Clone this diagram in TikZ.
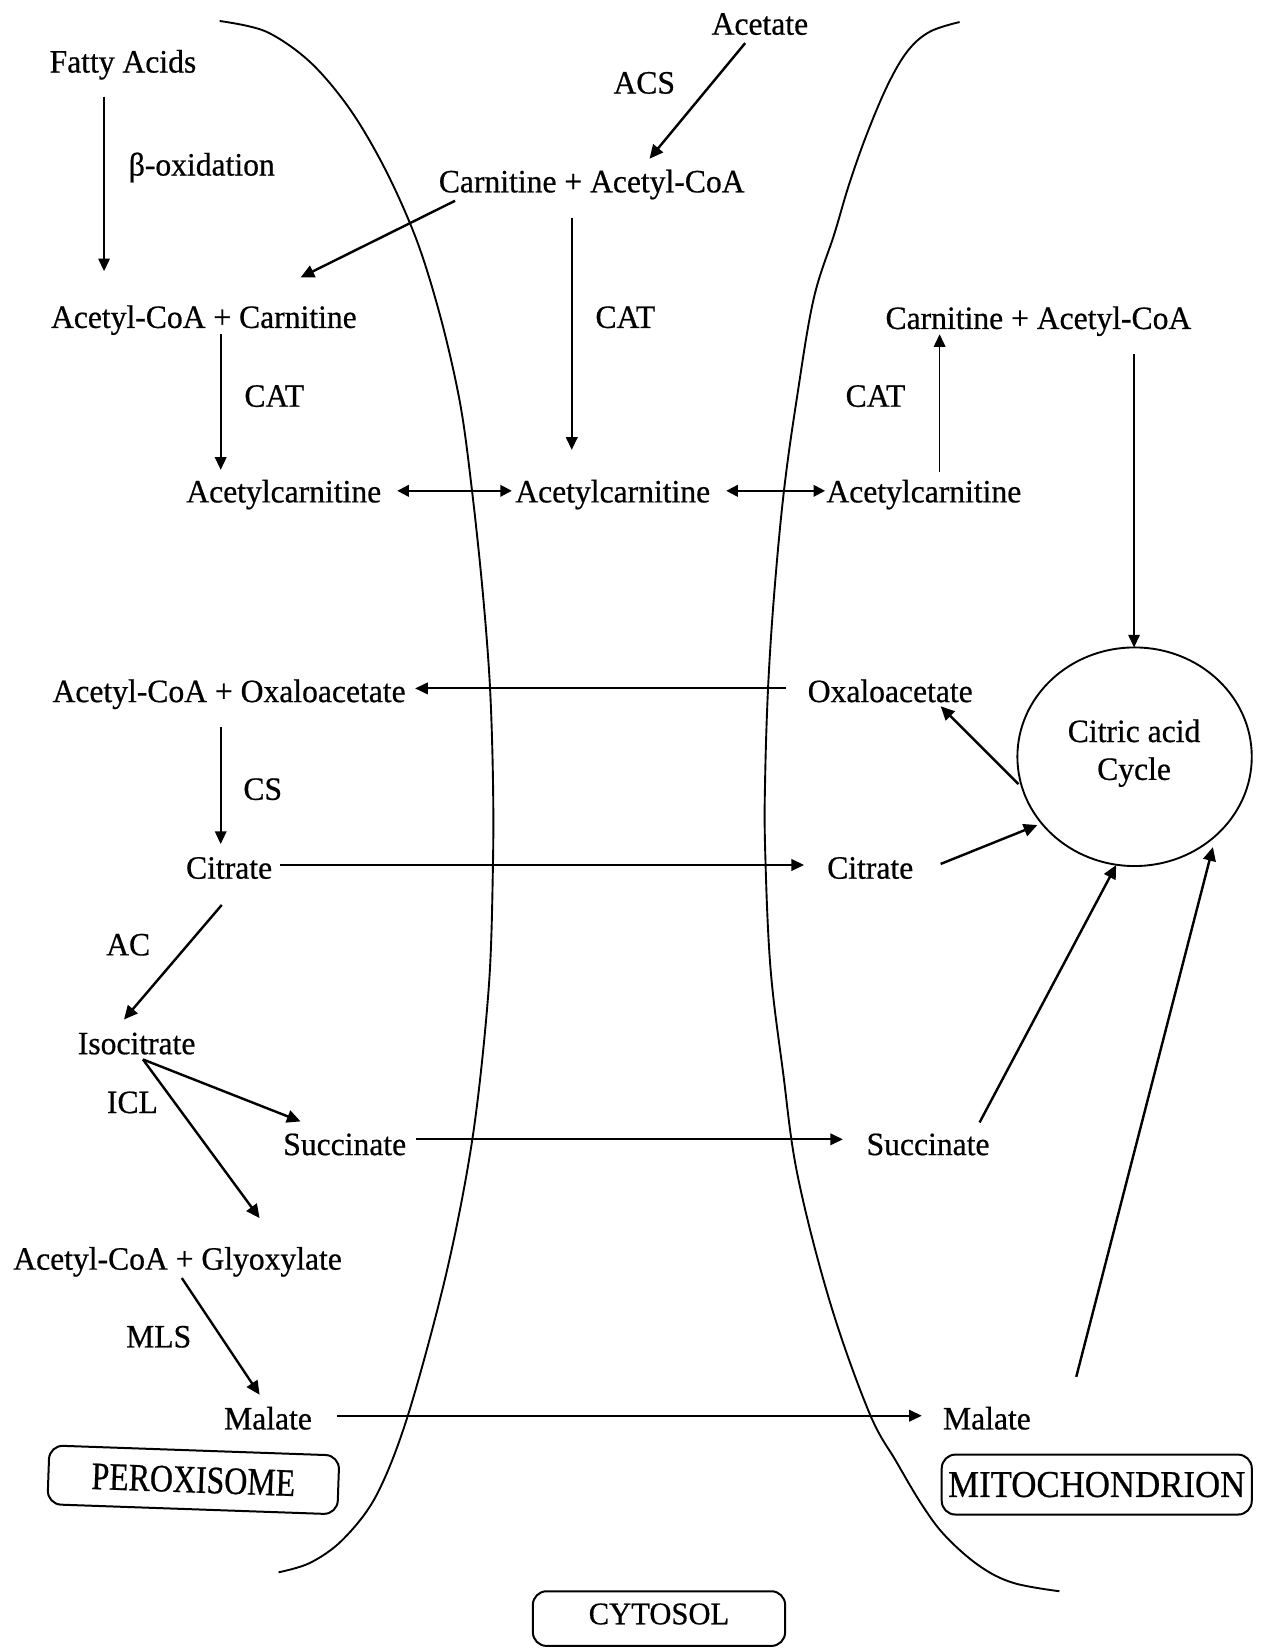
\documentclass[tikz,border=0pt]{standalone}
\usepackage{fontspec}
\setmainfont{Liberation Serif}[FakeStretch=0.97,FakeBold=0.6]
\newfontfamily\peroxfont{Liberation Serif}[FakeStretch=0.82,FakeBold=0.6]
\newfontfamily\mitofont{Liberation Serif}[FakeStretch=0.92,FakeBold=0.6]
\usetikzlibrary{arrows.meta,shapes.geometric}

\tikzset{
  lbl/.style={anchor=base, inner sep=0pt, font=\fontsize{31}{36}\selectfont},
  thinarr/.style={line width=1.5pt, -{Triangle[length=12pt,width=11pt]}},
  longarr/.style={line width=1.8pt, -{Triangle[length=12pt,width=11pt]}},
  twoway/.style={line width=2pt, {Triangle[length=11pt,width=11pt]}-{Triangle[length=11pt,width=11pt]}},
  diagarr/.style={line width=2.3pt, -{Triangle[length=13pt,width=12pt]}},
  membrane/.style={line width=1.8pt},
  compartment/.style={draw, line width=1.9pt, rounded corners=13pt, inner sep=0pt}
}

\begin{document}
\begin{tikzpicture}[x=1pt,y=-1pt]
\useasboundingbox (0,0) rectangle (1205,1568);

% membranes
\draw[membrane] plot[smooth, tension=0.55] coordinates {
  (209,20) (253,30) (295,59) (333,104) (367,162) (397,230) (420,305)
  (438,385) (449,466) (459,560) (466,650) (469,740) (469,824) (465,940)
  (450,1080) (425,1210) (388,1347) (358,1423) (326,1465) (295,1487) (265,1496)};
\draw[membrane] plot[smooth, tension=0.6] coordinates {
  (913,21) (885,30) (864,48) (845,80) (825,127) (808,175) (794,222)
  (774,285) (758,380) (746,466) (737,560) (731,650) (728,740) (728,808)
  (733,920) (745,1020) (759,1119) (790,1240) (827,1344) (853,1391)
  (878,1433) (900,1462) (932,1490) (964,1506) (1008,1514)};

% metabolites and enzymes
\node[lbl] (fa)   at (117,69)   {Fatty Acids};
\node[lbl] (boxid) at (192,167) {β-oxidation};
\node[lbl] (acc)  at (194,312)  {Acetyl-CoA + Carnitine};
\node[lbl] (cat1) at (261,387)  {CAT};
\node[lbl] (acl)  at (270,478)  {Acetylcarnitine};
\node[lbl] (acm)  at (583,478)  {Acetylcarnitine};
\node[lbl] (acr)  at (879,478)  {Acetylcarnitine};
\node[lbl] (acet) at (723,33)   {Acetate};
\node[lbl] (acs)  at (613,89)   {ACS};
\node[lbl] (cam)  at (563,183)  {Carnitine + Acetyl-CoA};
\node[lbl] (catm) at (595,312)  {CAT};
\node[lbl] (car)  at (988,313)  {Carnitine + Acetyl-CoA};
\node[lbl] (catr) at (833,387)  {CAT};
\node[lbl] (aco)  at (218,668)  {Acetyl-CoA + Oxaloacetate};
\node[lbl] (oxr)  at (847,668)  {Oxaloacetate};
\node[lbl] (cs)   at (250,761)  {CS};
\node[lbl] (citl) at (218,836)  {Citrate};
\node[lbl] (citr) at (828,836)  {Citrate};
\node[lbl] (ac)   at (122,909)  {AC};
\node[lbl] (iso)  at (130,1003) {Isocitrate};
\node[lbl] (icl)  at (126,1059) {ICL};
\node[lbl] (sucl) at (328,1099) {Succinate};
\node[lbl] (sucr) at (883,1099) {Succinate};
\node[lbl] (acg)  at (169,1208) {Acetyl-CoA + Glyoxylate};
\node[lbl] (mls)  at (151,1282) {MLS};
\node[lbl] (mall) at (255,1360) {Malate};
\node[lbl] (malr) at (939,1360) {Malate};

% citric acid cycle
\node[draw, ellipse, line width=1.8pt, minimum width=223pt, minimum height=208pt, inner sep=0pt] (tca) at (1079.5,720) {};
\node[lbl] (tcaa) at (1079,706) {Citric acid};
\node[lbl] (tcab) at (1079,742) {Cycle};

% compartment labels
\node[compartment, minimum width=276pt, minimum height=56pt, rotate=-2,
      font=\peroxfont\fontsize{37}{40}\selectfont] (perox) at (184,1408) {PEROXISOME};
\node[compartment, minimum width=295pt, minimum height=57pt,
      font=\mitofont\fontsize{36}{40}\selectfont] (mito) at (1043.5,1412.5) {MITOCHONDRION};
\node[compartment, minimum width=240pt, minimum height=52pt, text depth=9pt,
      font=\fontsize{30}{34}\selectfont] (cyto) at (627,1540) {CYTOSOL};

% connector end points
\coordinate (faS)   at (99,92);    \coordinate (faE)   at (99,258);
\coordinate (camL)  at (433,191);  \coordinate (accT)  at (286,264);
\coordinate (accB)  at (210,318);  \coordinate (aclT)  at (210,447);
\coordinate (aclR)  at (378,467);  \coordinate (acmL)  at (487,467);
\coordinate (acmR)  at (691,467);  \coordinate (acrL)  at (785,467);
\coordinate (acetB) at (709,41);   \coordinate (camT)  at (618,151);
\coordinate (camB)  at (544,207);  \coordinate (acmT)  at (544,428);
\coordinate (acrT)  at (894,449);  \coordinate (carB)  at (894,318);
\coordinate (carR)  at (1079,337); \coordinate (tcaT)  at (1079,616);
\coordinate (oxrL)  at (748,655);  \coordinate (acoR)  at (395,655);
\coordinate (tcaL)  at (969,746);  \coordinate (oxrB)  at (895,672);
\coordinate (acoB)  at (210,692);  \coordinate (citlT) at (210,803);
\coordinate (citlR) at (266,823);  \coordinate (citrL) at (765,823);
\coordinate (citrR) at (895,822);  \coordinate (tcaW)  at (987,785);
\coordinate (citlB) at (211,861);  \coordinate (isoT)  at (118,970);
\coordinate (isoB)  at (136,1008); \coordinate (suclL) at (286,1067);
\coordinate (acgT)  at (247,1159);
\coordinate (suclR) at (396,1084); \coordinate (sucrL) at (802,1084);
\coordinate (sucrT) at (932,1068); \coordinate (tcaS)  at (1062,823);
\coordinate (acgB)  at (173,1216); \coordinate (mallT) at (247,1327);
\coordinate (mallR) at (321,1347); \coordinate (malrL) at (877,1347);
\coordinate (malrT) at (1024,1310); \coordinate (tcaE) at (1154,806);

% connectors
\draw[thinarr] (faS) -- (faE);
\draw[diagarr] (camL) -- (accT);
\draw[thinarr] (accB) -- (aclT);
\draw[twoway]  (aclR) -- (acmL);
\draw[twoway]  (acmR) -- (acrL);
\draw[diagarr] (acetB) -- (camT);
\draw[thinarr] (camB) -- (acmT);
\draw[thinarr] (acrT) -- (carB);
\draw[thinarr] (carR) -- (tcaT);
\draw[longarr] (oxrL) -- (acoR);
\draw[diagarr] (tcaL) -- (oxrB);
\draw[thinarr] (acoB) -- (citlT);
\draw[longarr] (citlR) -- (citrL);
\draw[diagarr] (citrR) -- (tcaW);
\draw[diagarr] (citlB) -- (isoT);
\draw[diagarr] (isoB) -- (suclL);
\draw[diagarr] (isoB) -- (acgT);
\draw[longarr] (suclR) -- (sucrL);
\draw[diagarr] (sucrT) -- (tcaS);
\draw[diagarr] (acgB) -- (mallT);
\draw[longarr] (mallR) -- (malrL);
\draw[diagarr] (malrT) -- (tcaE);
\end{tikzpicture}
\end{document}
